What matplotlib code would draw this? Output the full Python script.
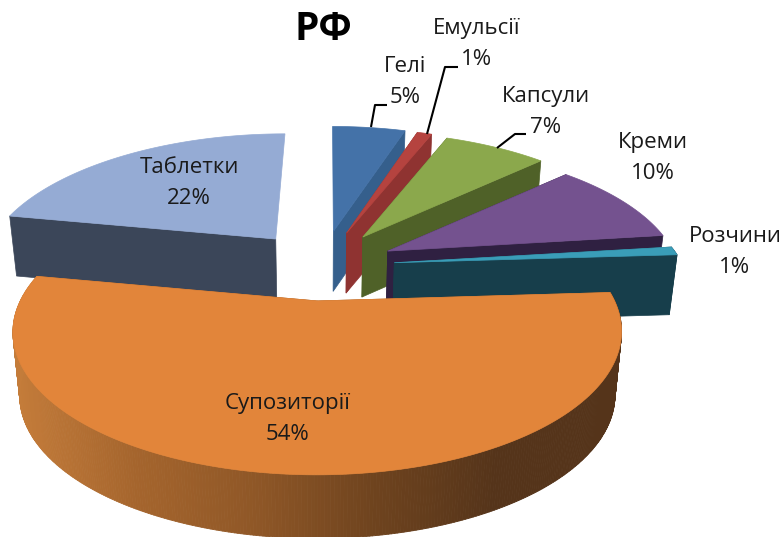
# 3D exploded pie chart, drawn by hand since matplotlib has no 3D pie

import numpy as np
import matplotlib.pyplot as plt
from matplotlib.colors import LinearSegmentedColormap
from matplotlib.collections import PolyCollection
from matplotlib.patches import Polygon

plt.rcParams['font.family'] = ['Open Sans', 'DejaVu Sans']

# DATA -----------------------------------------------

title = 'РФ'
categories = ['Гелі', 'Емульсії', 'Капсули', 'Креми', 'Розчини', 'Супозиторії', 'Таблетки']
values = [5, 1, 7, 10, 1, 54, 22]

top_colors = ['#4472A8', '#B5433F', '#8BA84C', '#74528F', '#3A9DB8', '#E2853A', '#95ABD4']
wall_colors = ['#355F8C', '#8F3331', '#4F6128', '#2F2041', '#173E4B', '#9B5B25', '#3B4659']

# label centres and leader lines, in pixels of the picture
label_pos = [(405, 82), (477, 44), (546, 112), (653, 158), (735, 252), (288, 419), (189, 183)]
leaders = {0: [(371, 127), (375, 105), (387, 105)],
           1: [(427, 134), (445, 67), (458, 67)],
           2: [(497, 148), (515, 134), (526, 134)]}

# LAYOUT ----------------------------------------------

x0, y0 = 322, 266      # centre of the pie before exploding
shift_x, shift_y = 72.6, 35
rx, ry = 288, 128.8
persp = 0.215
depth = 60
bottom_shrink = 0.978


def rim(angle, mid, offset):
    # offset of a rim point from the slice apex, with far side foreshortened
    u, v = np.sin(angle), np.cos(angle)
    s = 1 / (1 + persp * v)
    vm = np.cos(mid)
    near_x = 1 + 0.032 * max(0, -vm) - 0.02 * max(0, vm)
    near_y = 1 + 0.06 * max(0, -vm) - 0.01 * max(0, vm)
    lean = 0.07 if offset > 0 else 0.2
    return rx * u * s * near_x - offset * lean * v, -ry * v * s * near_y


fig = plt.figure(figsize=(7.84, 5.37), dpi=100)
ax = fig.add_axes([0, 0, 1, 1])
ax.set_xlim(0, 784)
ax.set_ylim(537, 0)
ax.axis('off')

edges = np.cumsum([0] + values) / sum(values) * 2 * np.pi
side_ramp = LinearSegmentedColormap.from_list(
    'side', ['#C47C3A', '#A5652D', '#8F5727', '#6E431E', '#55341A', '#55341A'])

# far slices first, orange (nearest) last
order = [6, 0, 1, 2, 3, 4, 5]
for z, i in enumerate(order):
    a0, a1 = edges[i], edges[i + 1]
    mid = (a0 + a1) / 2
    apex = (x0 + shift_x * np.sin(mid), y0 - shift_y * np.cos(mid))
    offset = apex[0] - x0
    angles = np.linspace(a0, a1, max(int(np.degrees(a1 - a0) * 2), 6))
    px = np.array([apex[0] + rim(a, mid, offset)[0] for a in angles])
    py = np.array([apex[1] + rim(a, mid, offset)[1] for a in angles])

    h = depth * (1 + 0.06 * max(0, -np.cos(mid)))
    bx = x0 + (px - x0) * bottom_shrink
    by = py + h
    apex_b = (x0 + offset * bottom_shrink, apex[1] + h)

    # the two cut walls, the one at 12 o'clock faces away
    for k, a in ((0, a0), (-1, a1)):
        if abs(np.sin(a)) < 0.02:
            continue
        ax.add_patch(Polygon([apex, (px[k], py[k]), (bx[k], by[k]), apex_b],
                             closed=True, fc=wall_colors[i], ec=wall_colors[i], lw=0.5, zorder=z * 3))

    # outer wall
    quads = [[(px[j], py[j]), (px[j + 1], py[j + 1]), (bx[j + 1], by[j + 1]), (bx[j], by[j])]
             for j in range(len(px) - 1)]
    if categories[i] == 'Супозиторії':
        cols = side_ramp((px[:-1] - px.min()) / (px.max() - px.min()))
    elif categories[i] == 'Розчини':
        cols = [wall_colors[i]] * len(quads)
    else:
        quads, cols = [], []    # rim faces away from the viewer
    ax.add_collection(PolyCollection(quads, facecolors=cols, edgecolors=cols, linewidths=0.6, zorder=z * 3 + 1))

    # top face
    ax.add_patch(Polygon(np.vstack([[apex], np.column_stack([px, py])]), closed=True,
                         fc=top_colors[i], ec=top_colors[i], lw=0.5, zorder=z * 3 + 2))

for i, pts in leaders.items():
    ax.plot(*zip(*pts), color='black', lw=1.5, zorder=50, solid_capstyle='butt')

for name, val, (tx, ty) in zip(categories, values, label_pos):
    ax.text(tx, ty, f'{name}\n{val}%', ha='center', va='center', fontsize=16, color='#1a1a1a',
            linespacing=1.6, zorder=60)

ax.text(323, 29, title, ha='center', va='center', fontsize=28, fontweight='bold', color='black', zorder=60)

fig.savefig('out.png', dpi=100, facecolor='white')
